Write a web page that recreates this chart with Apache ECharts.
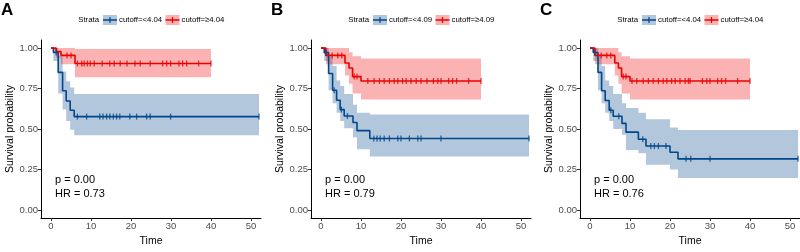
<!DOCTYPE html>
<html>
<head>
<meta charset="utf-8">
<script src="https://cdn.jsdelivr.net/npm/echarts@6/dist/echarts.min.js"></script>
<style>
  html, body { margin: 0; padding: 0; background: #fff; }
  #chart { width: 800px; height: 252px; }
</style>
</head>
<body>
<div id="chart"></div>
<script>
// ---------------- data ----------------
const timeTicks = [0, 10, 20, 30, 40, 50];
const survTicks = [0, 0.25, 0.5, 0.75, 1];
const panelLabels = ['A', 'B', 'C'];
const lowNames = ['cutoff=<4.04', 'cutoff=<4.09', 'cutoff=<4.04'];
const highNames = ['cutoff=≥4.04', 'cutoff=≥4.09', 'cutoff=≥4.04'];
const pTexts = ['p = 0.00', 'p = 0.00', 'p = 0.00'];
const hrTexts = ['HR = 0.73', 'HR = 0.79', 'HR = 0.76'];

// panel A
const aBlueT = [0, 0.6, 1.8, 2.9, 3.8, 4.8, 5.8, 52];
const aBlueS = [1, 0.973, 0.85, 0.737, 0.673, 0.616, 0.577, 0.577];
const aBlueHi = [1, 1, 0.95, 0.855, 0.795, 0.756, 0.717, 0.717];
const aBlueLo = [1, 0.92, 0.72, 0.62, 0.55, 0.495, 0.461, 0.461];
const aBlueCens = [1.3, 6.6, 8.9, 12.2, 13, 13.9, 14.7, 15.6, 16.4, 17.2, 19.7, 21.4, 23.9, 24.8, 29.9, 52];
const aRedT = [0, 1.3, 2.5, 6, 40];
const aRedS = [1, 0.978, 0.955, 0.905, 0.905];
const aRedHi = [1, 1, 1, 0.995, 0.995];
const aRedLo = [1, 0.94, 0.90, 0.82, 0.82];
const aRedCens = [4, 5, 6.6, 7.7, 8.3, 9.1, 9.8, 10.8, 12.8, 14.7, 15.8, 17.3, 19, 21, 22.3, 24.8, 27.9, 28.9, 29.9, 32, 32.9, 33.9, 36.9, 40];

// panel B
const bBlueT = [0, 0.8, 1.9, 2.9, 3.9, 4.8, 5.8, 8, 9, 12.2, 52];
const bBlueS = [1, 0.972, 0.843, 0.74, 0.678, 0.62, 0.581, 0.54, 0.49, 0.442, 0.442];
const bBlueHi = [1, 1, 0.95, 0.89, 0.80, 0.766, 0.717, 0.65, 0.60, 0.59, 0.59];
const bBlueLo = [1, 0.92, 0.74, 0.66, 0.60, 0.55, 0.505, 0.45, 0.375, 0.33, 0.33];
const bBlueCens = [1.2, 3.3, 5.1, 6.6, 13.2, 14, 14.8, 15.8, 17.1, 19.2, 20, 22.1, 24.2, 25, 30, 52];
const bRedT = [0, 1.25, 6, 7, 7.9, 10, 40];
const bRedS = [1, 0.955, 0.908, 0.877, 0.824, 0.797, 0.797];
const bRedHi = [1, 1, 1, 0.975, 0.95, 0.935, 0.935];
const bRedLo = [1, 0.90, 0.83, 0.78, 0.72, 0.683, 0.683];
const bRedCens = [2.8, 4.2, 5.2, 8.3, 9, 11.7, 13.3, 14.6, 15.8, 17.1, 18.3, 19.2, 20.4, 21.3, 22.5, 23.8, 25, 26.5, 28.1, 29.2, 30, 31.9, 32.9, 33.9, 36.9, 40];

// panel C
const cBlueT = [0, 0.8, 2, 2.9, 3.8, 4.8, 5.8, 8, 9, 12.1, 14, 20, 22, 52];
const cBlueS = [1, 0.973, 0.85, 0.737, 0.676, 0.616, 0.579, 0.535, 0.481, 0.437, 0.395, 0.357, 0.316, 0.316];
const cBlueHi = [1, 1, 0.95, 0.89, 0.80, 0.766, 0.717, 0.66, 0.63, 0.60, 0.56, 0.51, 0.494, 0.494];
const cBlueLo = [1, 0.92, 0.74, 0.66, 0.60, 0.55, 0.50, 0.465, 0.37, 0.35, 0.28, 0.25, 0.198, 0.198];
const cBlueCens = [1.2, 5.2, 7.2, 13.2, 15.2, 16.1, 17.1, 19, 24, 25.2, 30, 52];
const cRedT = [0, 1.25, 6.2, 7.1, 7.9, 10, 40];
const cRedS = [1, 0.955, 0.908, 0.877, 0.824, 0.797, 0.797];
const cRedHi = [1, 1, 1, 0.975, 0.95, 0.935, 0.935];
const cRedLo = [1, 0.90, 0.83, 0.78, 0.72, 0.683, 0.683];
const cRedCens = [2.8, 4.2, 5.2, 8.3, 9, 10.5, 11.7, 13.3, 14.6, 15.8, 17.1, 18.3, 19.2, 20.4, 21.3, 22.5, 23.8, 24.6, 25, 28.1, 29.2, 30, 31.9, 32.9, 33.9, 36.9, 40];

// ---------------- style ----------------
const FONT = 'Liberation Sans, Arial, sans-serif';
const BLUE = '#00468B';
const RED = '#ED0000';
const BLUE_BAND = 'rgba(0,70,139,0.3)';
const RED_BAND = 'rgba(237,0,0,0.3)';
const gridLefts = [41, 311, 580];
const GRID_TOP = 40, GRID_W = 220, GRID_H = 189;

const panels = [
  {blue: [aBlueT, aBlueS, aBlueHi, aBlueLo, aBlueCens], red: [aRedT, aRedS, aRedHi, aRedLo, aRedCens]},
  {blue: [bBlueT, bBlueS, bBlueHi, bBlueLo, bBlueCens], red: [bRedT, bRedS, bRedHi, bRedLo, bRedCens]},
  {blue: [cBlueT, cBlueS, cBlueHi, cBlueLo, cBlueCens], red: [cRedT, cRedS, cRedHi, cRedLo, cRedCens]}
];

// KM value at time t (step function lookup)
function stepAt(T, S, t) {
  let v = S[0];
  for (let i = 0; i < T.length; i++) if (T[i] <= t) v = S[i];
  return v;
}

function strataSeries(idx, d, lineColor, bandColor) {
  const [T, S, hi, lo, cens] = d;
  const base = {xAxisIndex: idx, yAxisIndex: idx, silent: true, animation: false};
  return [
    // confidence band as one stepped polygon
    Object.assign({}, base, {
      type: 'custom', z: 1,
      data: T.map((t, i) => [t, hi[i], lo[i]]),
      encode: {x: 0, y: [1, 2]},
      renderItem: function (params, api) {
        if (params.dataIndex !== 0) return;
        const pts = [];
        for (let i = 0; i < T.length; i++) {
          pts.push(api.coord([T[i], hi[i]]));
          if (i < T.length - 1) pts.push(api.coord([T[i + 1], hi[i]]));
        }
        for (let i = T.length - 1; i >= 0; i--) {
          if (i < T.length - 1) pts.push(api.coord([T[i + 1], lo[i]]));
          pts.push(api.coord([T[i], lo[i]]));
        }
        return {type: 'polygon', shape: {points: pts}, style: {fill: bandColor}};
      }
    }),
    Object.assign({}, base, {
      type: 'line', step: 'end', symbol: 'none',
      lineStyle: {color: lineColor, width: 1.6},
      data: T.map((t, i) => [t, S[i]]), z: 3
    }),
    Object.assign({}, base, {
      type: 'scatter', symbol: 'rect', symbolSize: [1.3, 6],
      itemStyle: {color: lineColor},
      data: cens.map(t => [t, stepAt(T, S, t)]), z: 4
    })
  ];
}

const grids = [], xAxes = [], yAxes = [], series = [], graphics = [];

panels.forEach((p, i) => {
  const left = gridLefts[i];
  grids.push({left: left, top: GRID_TOP, width: GRID_W, height: GRID_H});
  xAxes.push({
    type: 'value', gridIndex: i, min: -2.5, max: 52.5,
    name: 'Time', nameLocation: 'middle', nameGap: 13,
    nameTextStyle: {fontFamily: FONT, fontSize: 10.5, color: '#000'},
    axisLine: {show: true, onZero: false, lineStyle: {color: '#000', width: 1}},
    axisTick: {show: true, length: 3, customValues: timeTicks, lineStyle: {color: '#333'}},
    axisLabel: {customValues: timeTicks, margin: 3, fontFamily: FONT, fontSize: 9.5, color: '#4D4D4D'},
    splitLine: {show: false}
  });
  yAxes.push({
    type: 'value', gridIndex: i, min: -0.05, max: 1.05,
    name: 'Survival probability', nameLocation: 'middle', nameGap: 23,
    nameTextStyle: {fontFamily: FONT, fontSize: 10.5, color: '#000'},
    axisLine: {show: true, onZero: false, lineStyle: {color: '#000', width: 1}},
    axisTick: {show: true, length: 3, customValues: survTicks, lineStyle: {color: '#333'}},
    axisLabel: {customValues: survTicks, margin: 3, fontFamily: FONT, fontSize: 9.5, color: '#4D4D4D',
      formatter: v => v.toFixed(2)},
    splitLine: {show: false}
  });
  series.push(...strataSeries(i, p.blue, BLUE, BLUE_BAND));
  series.push(...strataSeries(i, p.red, RED, RED_BAND));

  // panel letter
  graphics.push({type: 'text', x: left - 40, y: 10, style: {
    text: panelLabels[i], fontFamily: FONT, fontSize: 17, fontWeight: 'bold', fill: '#000',
    align: 'left', verticalAlign: 'middle'}});

  // legend
  const ly = 20;
  graphics.push({type: 'text', x: left + 58, y: ly, style: {
    text: 'Strata', fontFamily: FONT, fontSize: 7.8, fill: '#000', align: 'right', verticalAlign: 'middle'}});
  [[62, BLUE_BAND, BLUE, lowNames[i]], [124.5, RED_BAND, RED, highNames[i]]].forEach(k => {
    const kx = left + k[0];
    graphics.push({type: 'rect', shape: {x: kx, y: ly - 5, width: 14, height: 10}, style: {fill: k[1]}});
    graphics.push({type: 'line', shape: {x1: kx, y1: ly, x2: kx + 14, y2: ly}, style: {stroke: k[2], lineWidth: 1.5}});
    graphics.push({type: 'line', shape: {x1: kx + 7, y1: ly - 3, x2: kx + 7, y2: ly + 3}, style: {stroke: k[2], lineWidth: 1.2}});
    graphics.push({type: 'text', x: kx + 16, y: ly, style: {
      text: k[3], fontFamily: FONT, fontSize: 7.8, fill: '#000', align: 'left', verticalAlign: 'middle'}});
  });

  // p value and HR
  graphics.push({type: 'text', x: left + 14, y: 179.5, style: {
    text: pTexts[i], fontFamily: FONT, fontSize: 11, fill: '#000', align: 'left', verticalAlign: 'middle'}});
  graphics.push({type: 'text', x: left + 14, y: 193.5, style: {
    text: hrTexts[i], fontFamily: FONT, fontSize: 11, fill: '#000', align: 'left', verticalAlign: 'middle'}});
});

const chart = echarts.init(document.getElementById('chart'), null, {renderer: 'canvas'});
chart.setOption({
  animation: false,
  backgroundColor: '#fff',
  grid: grids,
  xAxis: xAxes,
  yAxis: yAxes,
  series: series,
  graphic: graphics
});
</script>
</body>
</html>
